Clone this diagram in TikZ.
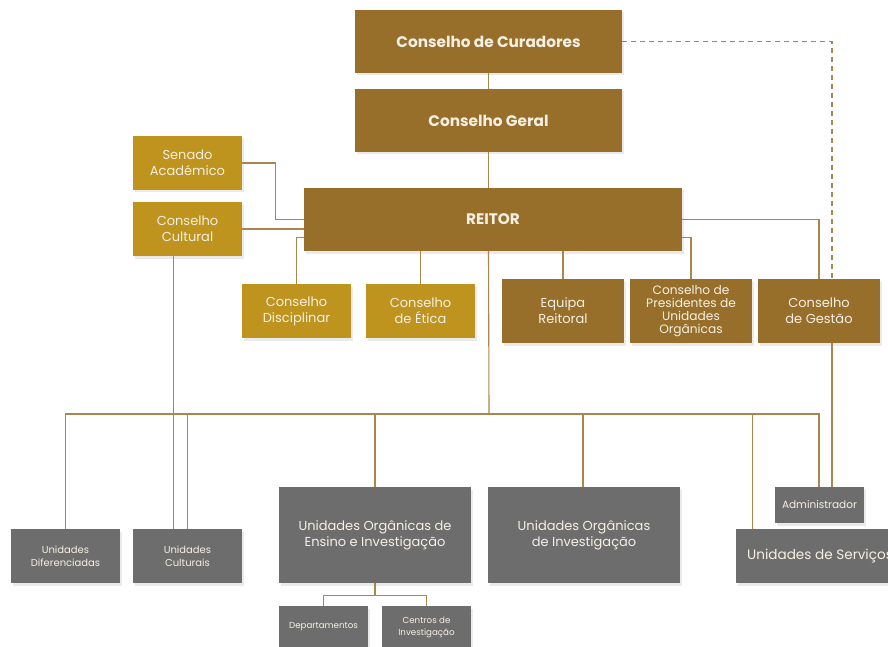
\documentclass[tikz,border=0pt]{standalone}
\usepackage{fontspec}
\setmainfont{Poppins}
\usetikzlibrary{shadows}
\definecolor{brn}{HTML}{986F2A}
\definecolor{gld}{HTML}{BE931E}
\definecolor{gry}{HTML}{6D6D6D}
\definecolor{lnc}{HTML}{AA864C}
\definecolor{txc}{HTML}{F6F0E4}
\newcommand{\fs}[1]{\fontsize{#1}{#1}\selectfont}
\begin{document}
\begin{tikzpicture}[x=1pt,y=-1pt,
  box/.style={rectangle, inner sep=0pt, align=center, text=txc,
    drop shadow={opacity=0.16, shadow xshift=1.5pt, shadow yshift=-2.5pt}},
  bbox/.style={box, fill=brn},
  gbox/.style={box, fill=gld},
  ybox/.style={box, fill=gry},
  conn/.style={draw=lnc, line width=1.1pt},
  dconn/.style={draw=lnc, line width=1.1pt, dash pattern=on 5pt off 4pt},
  big/.style={font=\fs{15.3}\bfseries},
  mid/.style={font={\fontsize{13}{16}\selectfont}},
  tight/.style={font={\fontsize{12.2}{13}\selectfont}},
  sml/.style={font={\fontsize{10}{13}\selectfont}},
  tiny/.style={font={\fontsize{8.7}{12}\selectfont}},
]
\useasboundingbox (0,0) rectangle (888,647);
\fill[white] (0,0) rectangle (888,647);

% nodes
\node[bbox, big, minimum width=267, minimum height=63] (cur) at (488.5,41.5) {Conselho de Curadores};
\node[bbox, big, minimum width=267, minimum height=63] (geral) at (488.5,120.5) {Conselho Geral};
\node[bbox, big, minimum width=378, minimum height=63] (reitor) at (493,219.5) {REITOR};
\node[gbox, mid, minimum width=109, minimum height=54] (senado) at (187.5,163) {Senado\\Académico};
\node[gbox, mid, minimum width=109, minimum height=54] (cultural) at (187.5,229) {Conselho\\Cultural};
\node[gbox, mid, minimum width=109, minimum height=54] (disc) at (296.5,311) {Conselho\\Disciplinar};
\node[gbox, mid, minimum width=109, minimum height=54] (etica) at (420.5,311) {Conselho\\de Ética};
\node[bbox, mid, minimum width=122, minimum height=64] (equipa) at (563,311) {Equipa\\Reitoral};
\node[bbox, tight, minimum width=122, minimum height=64] (pres) at (691,311) {Conselho de\\Presidentes de\\Unidades\\Orgânicas};
\node[bbox, mid, minimum width=122, minimum height=64] (gestao) at (819,311) {Conselho\\de Gestão};

\node[ybox, sml, minimum width=109, minimum height=54] (difer) at (65.5,556) {Unidades\\Diferenciadas};
\node[ybox, sml, minimum width=109, minimum height=54] (ucult) at (187.5,556) {Unidades\\Culturais};
\node[ybox, mid, minimum width=192, minimum height=96] (uoei) at (375,535) {Unidades Orgânicas de\\Ensino e Investigação};
\node[ybox, mid, minimum width=192, minimum height=96] (uoi) at (584,535) {Unidades Orgânicas\\de Investigação};
\node[ybox, tiny, minimum width=89, minimum height=42] (dep) at (323.5,627) {Departamentos};
\node[ybox, tiny, minimum width=89, minimum height=42] (cent) at (426.5,627) {Centros de\\Investigação};
\node[ybox, font={\fontsize{13.6}{16}\selectfont}, minimum width=168, minimum height=54] (serv) at (820,556) {Unidades de Serviços};
\node[ybox, font={\fontsize{10.5}{13}\selectfont}, minimum width=89, minimum height=36] (admin) at (819.5,505) {Administrador};

\coordinate (bus) at (489,414);

% connectors
\draw[conn] (cur.south) -- (geral.north);
\draw[conn] (geral.south) -- (geral.south |- reitor.north);
\draw[conn] (geral.south |- reitor.south) -- (bus);
\draw[conn] (senado.east) -| ([xshift=-28pt]reitor.west) -- (reitor.west);
\draw[conn] (cultural.east) -- (cultural.east -| reitor.west);
\draw[conn] ([yshift=-18pt]reitor.west) -| (disc.north);
\draw[conn] (etica.north) -- (etica.north |- reitor.south);
\draw[conn] (equipa.north) -- (equipa.north |- reitor.south);
\draw[conn] ([yshift=-18pt]reitor.east) -| (pres.north);
\draw[conn] (reitor.east) -| (gestao.north);
\draw[dconn] (cur.east) -| ([xshift=13pt]gestao.north);
\draw[conn] ([xshift=13pt]gestao.south) -- ([xshift=13pt]gestao.south |- admin.north);

\draw[conn] (difer.north) |- (bus) -| ([xshift=-0.5pt]admin.north);
\draw[conn] ([xshift=-14pt]cultural.south) -- ([xshift=-14pt]ucult.north);
\draw[conn] (ucult.north) -- (ucult.north |- bus);
\draw[conn] (uoei.north) -- (uoei.north |- bus);
\draw[conn] ([xshift=-1pt]uoi.north) -- ([xshift=-1pt]uoi.north |- bus);
\draw[conn] ([xshift=17pt]serv.north west) -- ([xshift=17pt]serv.north west |- bus);
\draw[conn] (uoei.south) -- ([yshift=-12pt]uoei.south);
\draw[conn] (dep.north) |- ([yshift=-12pt]uoei.south) -| (cent.north);
\end{tikzpicture}
\end{document}
